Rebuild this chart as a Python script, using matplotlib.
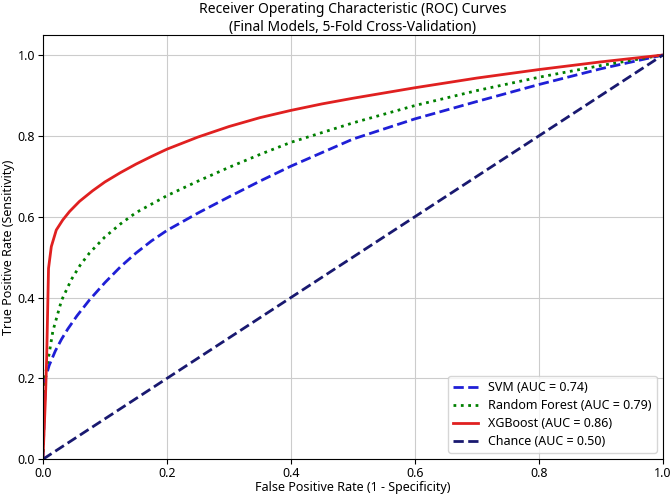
import matplotlib
matplotlib.use("Agg")
import matplotlib.pyplot as plt

plt.rcParams['font.family'] = ['Noto Sans', 'DejaVu Sans']

# ROC points
svm_fpr = [0.0, 0.004, 0.01, 0.02, 0.03, 0.04, 0.055, 0.075, 0.1, 0.125, 0.15, 0.175, 0.2, 0.25, 0.3,
           0.35, 0.4, 0.5, 0.6, 0.7, 0.8, 0.9, 1.0]
svm_tpr = [0.0, 0.2, 0.232, 0.268, 0.297, 0.322, 0.355, 0.394, 0.437, 0.476, 0.51, 0.54, 0.566, 0.609, 0.649,
           0.688, 0.725, 0.792, 0.842, 0.885, 0.927, 0.966, 1.0]

rf_fpr = [0.0, 0.003, 0.011, 0.016, 0.03, 0.046, 0.06, 0.075, 0.1, 0.125, 0.15, 0.2, 0.25, 0.3,
          0.35, 0.4, 0.5, 0.6, 0.7, 0.8, 0.9, 1.0]
rf_tpr = [0.0, 0.2, 0.27, 0.317, 0.393, 0.445, 0.48, 0.51, 0.55, 0.582, 0.61, 0.652, 0.688, 0.722,
          0.754, 0.784, 0.832, 0.875, 0.912, 0.945, 0.974, 1.0]

xgb_fpr = [0.0, 0.004, 0.006, 0.009, 0.0135, 0.0215, 0.032, 0.043, 0.059, 0.08, 0.1, 0.125, 0.15, 0.175, 0.2,
           0.25, 0.3, 0.35, 0.4, 0.45, 0.5, 0.6, 0.7, 0.8, 0.9, 1.0]
xgb_tpr = [0.0, 0.15, 0.25, 0.472, 0.526, 0.567, 0.592, 0.613, 0.638, 0.664, 0.686, 0.709, 0.73, 0.749, 0.767,
           0.797, 0.823, 0.845, 0.863, 0.879, 0.893, 0.919, 0.943, 0.964, 0.983, 1.0]

labels = ["SVM (AUC = 0.74)", "Random Forest (AUC = 0.79)", "XGBoost (AUC = 0.86)", "Chance (AUC = 0.50)"]

fig = plt.figure(figsize=(6.71, 4.97), dpi=100)
ax = fig.add_axes([0.064, 0.076, 0.924, 0.854])

ax.plot(svm_fpr, svm_tpr, color='#1f1fd6', linestyle='--', linewidth=2, label=labels[0])
ax.plot(rf_fpr, rf_tpr, color='green', linestyle=':', linewidth=2, label=labels[1])
ax.plot(xgb_fpr, xgb_tpr, color='#e02020', linestyle='-', linewidth=2, label=labels[2])
ax.plot([0, 1], [0, 1], color='#191970', linestyle='--', linewidth=2, label=labels[3])

ax.set_xlim(0, 1)
ax.set_ylim(0, 1.05)
ax.grid(True, color='#cccccc')
ax.set_axisbelow(True)
ax.tick_params(labelsize=9, pad=2)
ax.set_xlabel("False Positive Rate (1 - Specificity)", fontsize=9, labelpad=1)
ax.set_ylabel("True Positive Rate (Sensitivity)", fontsize=9, labelpad=2)
ax.set_title("Receiver Operating Characteristic (ROC) Curves\n(Final Models, 5-Fold Cross-Validation)",
             fontsize=10, pad=3, linespacing=1.2)
ax.legend(loc='lower right', fontsize=9, labelspacing=0.4)

plt.savefig("out.png", dpi=100)
